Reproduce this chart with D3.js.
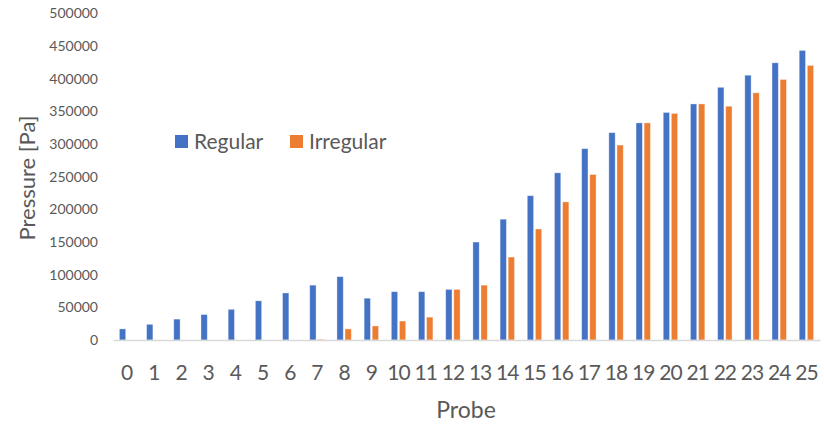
<!DOCTYPE html>
<html>
<head>
<meta charset="utf-8">
<script src="https://cdn.jsdelivr.net/npm/d3@7"></script>
<style>
  html, body { margin: 0; padding: 0; background: #fff; }
  svg { display: block; font-family: Lato, "Open Sans", sans-serif; }
</style>
</head>
<body>
<svg id="chart" width="824" height="425"></svg>
<script>
// Probe numbers along the x axis
const probes = d3.range(0, 26).map(String);

// Pressure at each probe [Pa]
const regular = [17000, 24000, 32000, 39000, 47000, 60000, 72000, 84000, 97000, 64000,
                 74000, 74000, 77500, 150000, 185000, 221000, 256000, 293000, 317500, 332500,
                 348500, 361500, 387000, 405500, 424500, 443500];
const irregular = [0, 0, 0, 0, 0, 0, 0, 1000, 17000, 21500,
                   29000, 35000, 77500, 84000, 127000, 170000, 211500, 253500, 298500, 332500,
                   347000, 361500, 358000, 378500, 399000, 420500];

const seriesNames = ["Regular", "Irregular"];
const seriesColors = ["#4472C4", "#ED7D31"];
const yTicks = [0, 50000, 100000, 150000, 200000, 250000, 300000, 350000, 400000, 450000, 500000];

const svg = d3.select("#chart");
const textColor = "#595959";

const x = d3.scaleBand().domain(probes).range([113, 820]).paddingInner(0).paddingOuter(0);
const xSub = d3.scaleBand().domain(seriesNames).range([0, x.bandwidth()])
  .paddingInner(0.22).paddingOuter(0.79);
const y = d3.scaleLinear().domain([0, 500000]).range([340, 13.5]);

const rows = probes.map((p, i) => ({ probe: p, values: [regular[i], irregular[i]] }));

// Bars
const groups = svg.append("g").selectAll("g").data(rows).join("g")
  .attr("transform", d => `translate(${x(d.probe)},0)`);
groups.selectAll("rect")
  .data(d => d.values.map((v, k) => ({ name: seriesNames[k], value: v, color: seriesColors[k] })))
  .join("rect")
  .filter(d => d.value > 0)
  .attr("x", d => xSub(d.name))
  .attr("width", xSub.bandwidth())
  .attr("y", d => y(d.value))
  .attr("height", d => y(0) - y(d.value))
  .attr("fill", d => d.color)
  .attr("stroke", "rgba(255,255,255,0.45)")
  .attr("stroke-width", 0.8);

// X axis (category baseline and probe labels)
const xAxis = svg.append("g").attr("transform", `translate(0,${y(0)})`)
  .call(d3.axisBottom(x).tickSize(0).tickPadding(25));
xAxis.select(".domain").attr("stroke", "#d9d9d9").attr("stroke-width", 1.6);
xAxis.selectAll("text")
  .attr("fill", textColor)
  .style("font-size", "21px")
  .style("letter-spacing", "-1px")
  .style("font-family", "Lato, sans-serif");

// Y axis labels only
const yAxis = svg.append("g").attr("transform", "translate(98,0)")
  .call(d3.axisLeft(y).tickValues(yTicks).tickSize(0).tickPadding(0).tickFormat(d3.format("d")));
yAxis.select(".domain").remove();
yAxis.selectAll("text")
  .attr("fill", textColor)
  .style("font-size", "14px")
  .style("font-family", "Lato, sans-serif");

// Axis titles
svg.append("text")
  .attr("transform", "translate(35,178) rotate(-90)")
  .attr("text-anchor", "middle")
  .attr("fill", textColor)
  .style("font-size", "22px")
  .text("Pressure [Pa]");

svg.append("text")
  .attr("x", 466)
  .attr("y", 418)
  .attr("text-anchor", "middle")
  .attr("fill", textColor)
  .style("font-size", "23px")
  .text("Probe");

// Legend
const legendX = [175, 290];
const legend = svg.append("g").selectAll("g").data(seriesNames).join("g")
  .attr("transform", (d, i) => `translate(${legendX[i]},135)`);
legend.append("rect")
  .attr("width", 13).attr("height", 13)
  .attr("fill", (d, i) => seriesColors[i]);
legend.append("text")
  .attr("x", 19).attr("y", 13.5)
  .attr("fill", textColor)
  .style("font-size", "21px")
  .text(d => d);
</script>
</body>
</html>
